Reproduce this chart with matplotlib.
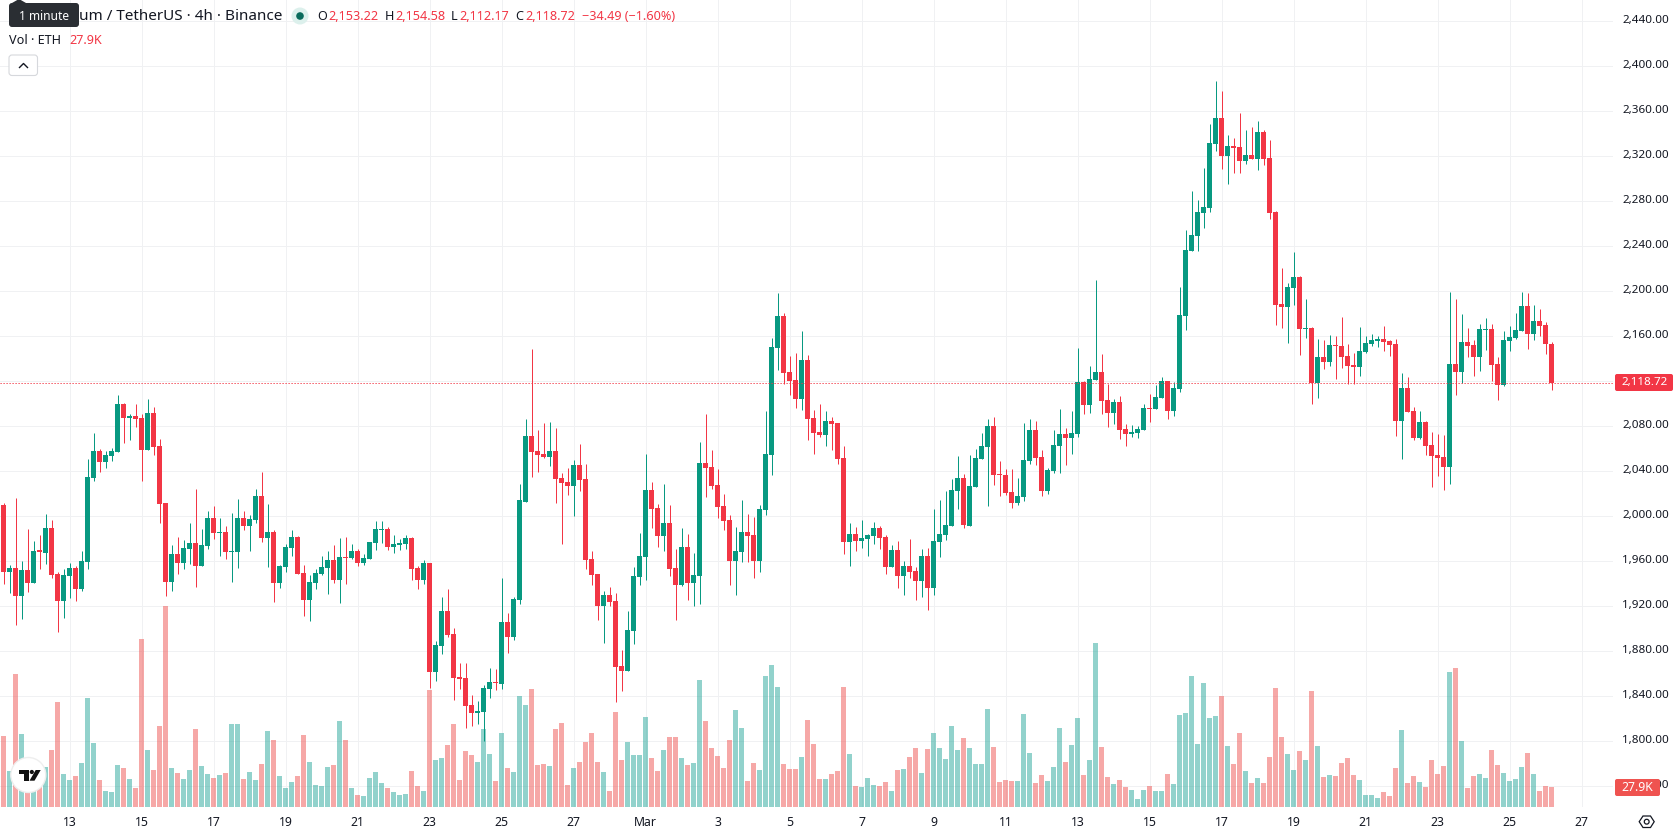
import matplotlib
matplotlib.use('Agg')
import matplotlib.pyplot as plt
from matplotlib.patches import Circle, FancyBboxPatch, Polygon, Rectangle
from matplotlib.transforms import ScaledTranslation
import numpy

# ETH/USDT 4h candles
opens = [2010.1,1950.5,1954.1,1929.2,1952.3,1940.7,1969.2,1967.4,1989.6,1948.7,
    1924.7,1947.0,1954.1,1935.4,1959.4,2034.1,2058.1,2048.3,2053.6,2057.2,
    2099.9,2087.4,2089.2,2087.4,2059.0,2091.9,2062.5,2011.9,1941.6,1966.5,
    1958.5,1971.0,1976.3,1955.9,1973.6,1998.5,1985.2,1986.1,1968.3,1968.3,
    1998.5,1991.4,1996.7,2018.1,1980.7,1986.1,1940.7,1955.0,1971.9,1981.6,
    1949.6,1925.6,1940.7,1948.7,1954.1,1961.2,1943.4,1963.9,1963.0,1969.2,
    1958.5,1962.1,1976.3,1987.9,1988.7,1972.7,1974.5,1975.4,1980.7,1954.1,
    1943.4,1958.5,1861.6,1884.7,1915.9,1895.4,1857.2,1856.3,1832.3,1825.2,
    1826.1,1846.5,1852.7,1851.0,1906.1,1892.7,1925.6,2012.7,2071.4,2058.1,
    2055.4,2052.7,2058.1,2034.1,2030.5,2027.0,2045.6,2033.2,1962.1,1948.7,
    1920.3,1930.1,1924.7,1867.0,1862.5,1898.1,1946.1,1963.9,2023.4,2007.4,
    1982.5,1994.1,1954.1,1939.0,1972.7,1940.7,1947.0,2047.4,2043.9,2027.9,
    2009.2,1996.7,1960.3,1968.3,1986.1,1983.4,1960.3,2005.6,2054.5,2149.6,
    2178.1,2128.3,2121.2,2104.3,2139.0,2087.4,2075.0,2072.3,2084.7,2083.0,
    2051.9,1977.2,1984.3,1978.1,1979.9,1982.5,1989.6,1981.6,1955.0,1970.1,
    1947.0,1955.9,1951.4,1942.5,1964.7,1936.3,1977.2,1983.4,1991.4,2022.5,
    2034.1,1991.4,2026.1,2051.0,2061.6,2080.3,2037.6,2036.7,2021.6,2011.9,
    2017.2,2049.2,2076.7,2052.7,2022.5,2040.3,2062.5,2073.2,2069.6,2073.2,
    2119.4,2099.0,2121.2,2128.3,2103.4,2091.9,2101.6,2077.6,2073.2,2074.1,
    2076.7,2096.3,2095.4,2105.2,2120.3,2093.6,2113.2,2178.1,2235.9,2249.2,
    2269.6,2274.1,2331.0,2354.1,2320.3,2329.2,2328.3,2315.9,2321.2,2317.6,
    2341.6,2318.5,2270.5,2188.7,2186.1,2203.0,2212.7,2166.5,2167.4,2118.5,
    2141.6,2137.2,2152.3,2151.4,2142.5,2134.5,2132.7,2146.1,2153.2,2155.9,
    2157.6,2155.9,2153.2,2084.7,2114.1,2093.6,2069.6,2083.9,2063.4,2054.5,
    2052.7,2043.9,2135.4,2128.3,2155.0,2152.3,2141.6,2165.6,2166.5,2135.4,
    2116.7,2155.9,2158.5,2164.7,2187.0,2162.1,2173.6,2170.1,2153.22]
highs = [2011.9,1956.7,2016.3,1960.3,1988.7,1978.1,1983.4,2002.1,1996.7,1950.5,
    1953.2,1958.5,1955.9,1969.2,2051.0,2074.1,2059.9,2058.1,2060.7,2107.9,
    2100.7,2091.0,2099.9,2091.0,2104.3,2097.2,2068.7,2011.9,1974.5,1981.6,
    1979.0,1994.1,2024.3,1988.7,2004.7,2009.2,1998.5,1991.4,2003.0,2015.4,
    2004.7,2001.2,2024.3,2039.4,2011.0,1987.9,1956.7,1975.4,1987.9,1982.5,
    1956.7,1947.9,1953.2,1964.7,1969.2,1974.5,1980.7,1981.6,1975.4,1971.0,
    1966.5,1977.2,1995.9,1995.9,1990.5,1983.4,1979.9,1983.4,1981.6,1955.9,
    1961.2,1958.5,1889.2,1928.3,1935.4,1900.7,1869.6,1869.6,1841.2,1835.8,
    1850.1,1865.2,1864.3,1945.2,1914.1,1928.3,2028.7,2086.5,2148.7,2076.7,
    2083.0,2083.9,2078.5,2038.5,2043.0,2050.1,2064.3,2046.5,1969.2,1948.7,
    1933.6,1937.2,1931.9,1881.2,1915.9,1955.0,1985.2,2055.4,2030.5,2011.0,
    2028.7,2010.1,1971.0,1989.6,1984.3,1967.4,2066.1,2091.0,2059.0,2042.1,
    2019.9,2001.2,1990.5,2014.5,2002.1,1999.4,2010.1,2093.6,2158.5,2198.5,
    2180.7,2142.5,2145.2,2164.7,2143.4,2094.5,2099.9,2093.6,2088.3,2083.0,
    2062.5,1994.1,1990.5,1996.7,1984.3,1995.0,1991.4,1983.4,1974.5,1978.1,
    1960.3,1979.9,1955.0,1971.0,1971.9,2006.5,2014.5,2022.5,2033.2,2053.6,
    2037.6,2054.5,2059.9,2074.1,2086.5,2088.3,2049.2,2042.1,2042.1,2034.1,
    2083.0,2086.5,2084.7,2059.0,2043.0,2076.7,2095.4,2078.5,2093.6,2149.6,
    2120.3,2133.6,2210.1,2144.3,2117.6,2104.3,2107.0,2082.1,2081.2,2080.3,
    2099.9,2108.7,2116.7,2123.9,2120.3,2119.4,2203.9,2254.5,2289.2,2281.2,
    2309.6,2348.7,2387.0,2378.1,2339.0,2336.3,2358.5,2343.4,2346.1,2351.4,
    2343.4,2334.5,2271.4,2220.7,2207.4,2235.0,2213.6,2193.2,2168.3,2157.6,
    2156.7,2161.2,2160.3,2177.2,2153.2,2145.2,2168.3,2160.3,2162.1,2160.3,
    2169.2,2156.7,2157.6,2127.4,2123.9,2097.2,2093.6,2084.7,2075.0,2073.2,
    2072.3,2199.4,2193.2,2179.9,2167.4,2156.7,2171.0,2176.3,2171.0,2141.6,
    2164.7,2169.2,2180.7,2199.4,2198.5,2187.9,2184.3,2172.7,2154.58]
lows = [1939.9,1931.9,1903.4,1908.7,1932.7,1940.7,1953.2,1957.6,1945.2,1897.2,
    1909.6,1927.4,1924.7,1933.6,1953.2,2031.4,2039.4,2043.0,2049.2,2057.2,
    2065.2,2067.9,2079.4,2031.4,2059.0,2054.5,1994.1,1929.2,1933.6,1948.7,
    1953.2,1957.6,1937.2,1955.9,1971.0,1979.9,1964.7,1962.1,1941.6,1954.1,
    1987.9,1969.2,1994.1,1977.2,1955.0,1923.9,1936.3,1950.5,1964.7,1948.7,
    1911.4,1907.0,1935.4,1947.9,1931.0,1940.7,1923.0,1939.9,1962.1,1955.9,
    1956.7,1962.1,1970.1,1976.3,1970.1,1967.4,1970.1,1971.0,1943.4,1935.4,
    1939.9,1847.4,1853.6,1877.6,1892.7,1836.7,1846.5,1812.1,1813.6,1815.4,
    1800.3,1838.5,1845.6,1846.5,1878.5,1890.1,1922.1,2012.7,2035.0,2039.4,
    2051.9,2044.7,2011.9,1975.4,2019.0,2000.3,2022.5,1953.2,1939.0,1907.9,
    1887.4,1920.3,1835.0,1844.7,1862.5,1886.5,1939.0,1943.4,1989.6,1972.7,
    1969.2,1947.0,1907.9,1938.1,1925.6,1920.3,1922.1,2017.2,2024.3,1998.5,
    1987.9,1939.0,1930.1,1959.4,1959.4,1945.2,1950.5,2001.2,2036.7,2130.1,
    2117.6,2107.9,2096.3,2094.5,2067.9,2055.4,2070.5,2062.5,2059.0,2046.5,
    1966.5,1955.9,1969.2,1971.9,1964.7,1975.4,1971.0,1948.7,1955.0,1936.3,
    1930.1,1945.2,1925.6,1928.3,1916.7,1930.1,1963.9,1979.0,1991.4,2006.5,
    1989.6,1991.4,2026.1,2051.0,2009.2,2027.9,2018.1,2019.0,2007.4,2010.1,
    2013.6,2046.5,2045.6,2018.1,2019.9,2038.5,2038.5,2045.6,2055.4,2070.5,
    2091.0,2091.9,2121.2,2091.0,2079.4,2082.1,2068.7,2062.5,2070.5,2069.6,
    2076.7,2083.9,2095.4,2105.2,2086.5,2089.2,2110.5,2165.6,2235.9,2235.9,
    2256.3,2270.5,2324.7,2308.7,2295.4,2305.2,2305.2,2313.2,2317.6,2307.9,
    2312.3,2264.3,2170.1,2167.4,2154.1,2187.9,2143.4,2158.5,2099.9,2105.2,
    2131.0,2133.6,2122.1,2131.9,2117.6,2117.6,2124.7,2145.2,2151.4,2150.5,
    2147.0,2142.5,2071.4,2051.0,2092.7,2067.9,2068.7,2054.5,2026.1,2035.9,
    2023.4,2028.7,2107.9,2118.5,2141.6,2124.7,2129.2,2147.9,2120.3,2103.4,
    2115.9,2147.0,2157.6,2164.7,2148.7,2156.7,2160.3,2144.3,2112.17]
closes = [1950.5,1954.1,1929.2,1952.3,1940.7,1969.2,1968.6,1989.6,1947.9,1924.7,
    1947.9,1954.1,1935.4,1960.3,2035.0,2058.1,2048.3,2054.5,2058.1,2099.9,
    2087.4,2089.2,2086.5,2059.0,2091.9,2061.6,2011.0,1941.6,1966.5,1958.5,
    1971.9,1976.3,1955.9,1974.5,1998.5,1985.2,1986.1,1968.3,1969.2,1998.5,
    1991.4,1997.6,2018.1,1980.7,1986.1,1940.7,1955.9,1972.7,1981.6,1948.7,
    1925.6,1941.6,1949.6,1955.0,1961.2,1943.4,1963.9,1963.0,1969.2,1958.5,
    1963.0,1977.2,1988.7,1988.7,1972.7,1975.4,1976.3,1980.7,1953.2,1943.4,
    1958.5,1861.6,1885.6,1915.9,1894.5,1856.3,1855.4,1831.4,1825.2,1827.0,
    1847.4,1852.7,1851.8,1906.1,1892.7,1926.5,2014.5,2071.4,2057.2,2054.5,
    2052.7,2058.1,2033.2,2029.6,2027.0,2045.6,2032.3,1961.2,1947.9,1920.3,
    1930.1,1923.9,1866.1,1862.5,1899.0,1947.0,1964.7,2023.4,2006.5,1982.5,
    1994.1,1953.2,1939.0,1972.7,1940.7,1947.9,2047.4,2043.0,2027.0,2008.3,
    1995.9,1960.3,1969.2,1986.1,1982.5,1960.3,2006.5,2055.4,2150.5,2178.1,
    2127.4,2120.3,2104.3,2139.0,2086.5,2074.1,2072.3,2084.7,2082.1,2051.0,
    1977.2,1984.3,1978.1,1980.7,1983.4,1989.6,1980.7,1955.0,1970.1,1947.0,
    1955.9,1950.5,1942.5,1964.7,1936.3,1978.1,1984.3,1992.3,2023.4,2034.1,
    1992.3,2027.0,2051.9,2062.5,2080.3,2036.7,2036.7,2020.7,2011.9,2018.1,
    2050.1,2076.7,2051.9,2022.5,2041.2,2063.4,2073.2,2069.6,2074.1,2119.4,
    2099.0,2122.1,2128.3,2102.5,2091.9,2101.6,2076.7,2073.2,2075.0,2077.6,
    2096.3,2095.4,2106.1,2120.3,2093.6,2114.1,2179.0,2236.7,2250.1,2270.5,
    2275.0,2331.9,2354.1,2320.3,2329.2,2327.4,2315.9,2321.2,2317.6,2341.6,
    2317.6,2269.6,2187.9,2186.1,2203.9,2212.7,2166.5,2167.4,2118.5,2141.6,
    2137.2,2152.3,2151.4,2141.6,2133.6,2132.7,2147.0,2154.1,2156.7,2157.6,
    2155.0,2152.3,2084.7,2114.1,2092.7,2069.6,2083.9,2062.5,2053.6,2051.9,
    2043.9,2135.4,2128.3,2155.0,2151.4,2141.6,2166.5,2166.5,2134.5,2116.7,
    2156.7,2159.4,2165.6,2187.0,2162.1,2173.6,2169.2,2153.2,2118.72]
# volume in thousands of ETH
volumes = [99.0,50.2,185.5,101.8,20.9,28.4,30.7,55.8,79.5,146.5,
    46.0,37.7,43.2,61.4,152.1,89.3,37.7,22.3,20.9,58.6,
    54.4,39.1,26.5,234.4,79.5,51.6,113.0,280.9,54.4,47.4,
    39.1,51.6,108.8,57.2,46.0,40.5,44.6,47.4,115.8,115.8,
    39.1,48.8,37.7,60.0,106.0,93.5,43.2,26.5,34.9,43.2,
    100.4,62.8,30.7,29.3,55.8,58.6,120.0,93.5,26.5,16.7,
    15.3,40.5,48.8,33.5,26.5,20.9,16.7,18.1,50.2,29.3,
    22.3,163.2,65.6,68.4,86.5,115.8,37.7,78.1,72.5,62.8,
    108.8,73.9,36.3,103.2,54.4,48.8,154.8,142.3,164.6,58.6,
    60.0,57.2,108.8,117.2,30.7,54.4,62.8,90.7,103.2,62.8,
    48.8,22.3,132.5,65.6,90.7,72.5,72.5,125.6,68.4,50.2,
    79.5,97.7,97.7,68.4,58.6,61.4,177.2,120.0,82.3,71.1,
    54.4,93.5,135.3,110.2,36.3,61.4,51.6,182.7,198.1,167.4,
    60.0,53.0,53.0,69.8,121.4,87.9,39.1,39.1,46.0,50.2,
    167.4,73.9,29.3,27.9,40.5,30.7,29.3,34.9,22.3,51.6,
    53.0,69.8,82.3,47.4,80.9,103.2,82.3,67.0,113.0,79.5,
    96.3,82.3,60.0,60.0,136.7,83.7,34.9,37.7,36.3,36.3,
    129.7,75.3,33.5,44.6,36.3,55.8,110.2,62.8,86.5,124.2,
    44.6,65.6,228.8,83.7,41.9,32.1,37.7,27.9,23.7,11.2,
    23.7,29.3,22.3,22.3,46.0,32.1,128.3,131.1,182.7,87.9,
    173.0,124.2,126.9,154.8,85.1,60.0,103.2,50.2,33.5,40.5,
    33.5,69.8,166.0,97.7,73.9,51.6,78.1,65.6,161.8,85.1,
    41.9,44.6,43.2,61.4,68.4,44.6,37.7,16.7,16.7,12.6,
    20.9,15.3,54.4,107.4,33.5,43.2,34.9,27.9,65.6,46.0,
    57.2,188.3,193.9,92.1,26.5,43.2,46.0,40.5,79.5,58.6,
    47.4,36.3,39.1,55.8,75.3,46.0,22.3,29.3,27.9]

date_labels = ['13','15','17','19','21','23','25','27','Mar','3','5','7','9','11','13','15','17','19','21','23','25','27']
price_ticks = numpy.arange(1760,2441,40)

up = '#089981'
down = '#f23645'
vol_up = '#26a69a'
vol_down = '#ef5350'
gridcol = '#f0f1f3'
textcol = '#131722'

plt.rcParams['font.family'] = ['Noto Sans','DejaVu Sans']

opens = numpy.array(opens)
highs = numpy.array(highs)
lows = numpy.array(lows)
closes = numpy.array(closes)
volumes = numpy.array(volumes)
idx = numpy.arange(len(opens))
rising = closes >= opens
colors = [up if r else down for r in rising]
volcolors = [vol_up if r else vol_down for r in rising]

fig = plt.figure(figsize=(16.78,8.35),dpi=100)
pane = [0,28/835,1613/1678,807/835]
xlim = (-3.5/6,(1613-3.5)/6)

# grid and axis labels sit on the bottom layer
ax_grid = fig.add_axes(pane,zorder=0)
ax_grid.set_xlim(xlim)
ax_grid.set_ylim(1741.6,2458.9)
date_pos = 11 + 12*numpy.arange(len(date_labels))
ax_grid.set_xticks(date_pos)
ax_grid.set_xticklabels(date_labels,fontsize=8.8,color=textcol)
ax_grid.get_xticklabels()[8].set_fontweight('bold')
ax_grid.set_yticks(price_ticks)
ax_grid.set_yticklabels(['{:,.2f}'.format(p) for p in price_ticks],fontsize=8.4,color=textcol)
ax_grid.yaxis.tick_right()
ax_grid.tick_params(axis='y',length=0,pad=6.5)
ax_grid.tick_params(axis='x',length=0,pad=6.5)
# price labels ride slightly above their grid line
nudge = ScaledTranslation(0,2/100,fig.dpi_scale_trans)
for t in ax_grid.get_yticklabels():
    t.set_transform(t.get_transform() + nudge)
ax_grid.grid(True,color=gridcol,linewidth=0.72)
ax_grid.set_axisbelow(True)
for s in ax_grid.spines.values():
    s.set_visible(False)

# volume histogram
ax_vol = fig.add_axes(pane,zorder=1)
ax_vol.patch.set_visible(False)
ax_vol.set_xlim(xlim)
ax_vol.set_ylim(0,1125.8)
ax_vol.bar(idx,volumes,width=5/6,color=volcolors,alpha=0.5,linewidth=0)
ax_vol.axis('off')

# candles
ax = fig.add_axes(pane,zorder=2)
ax.patch.set_visible(False)
ax.set_xlim(xlim)
ax.set_ylim(1741.6,2458.9)
ax.vlines(idx,lows,highs,colors=colors,linewidth=0.72)
bottoms = numpy.minimum(opens,closes)
heights = numpy.maximum(numpy.abs(closes-opens),1.0)
ax.bar(idx,heights,width=5/6,bottom=bottoms,color=colors,linewidth=0,antialiased=False)
ax.axhline(closes[-1],color=down,linewidth=0.72,linestyle=(0,(1.2,1.8)),snap=True)
ax.axis('off')

# chart chrome, in pixel coordinates
ui = fig.add_axes([0,0,1,1],zorder=5)
ui.patch.set_visible(False)
ui.set_xlim(0,1678)
ui.set_ylim(835,0)
ui.axis('off')

def label(x,y,s,color=textcol,size=9.1,ha='left',**kw):
    ui.text(x,y,s,color=color,fontsize=size,ha=ha,va='center',**kw)

def box(x0,y0,x1,y1,fc,ec='none',r=2,lw=0.8):
    ui.add_patch(FancyBboxPatch((x0+r,y0+r),x1-x0-2*r,y1-y0-2*r,boxstyle='round,pad=%f,rounding_size=%f' % (r,r),
        fc=fc,ec=ec,lw=lw,mutation_aspect=1))

# legend rows
label(79,16,'um / TetherUS · 4h · Binance',size=11.0)
ui.add_patch(Circle((300,16),8.5,fc='#dcf0ec',ec='none'))
ui.add_patch(Circle((300,16),3.8,fc='#0a6b5c',ec='none'))
ohlc = [('O',317.4,'2,153.22',328.6),('H',384.8,'2,154.58',395.5),('L',451,'2,112.17',459),('C',515.6,'2,118.72',525)]
for name,nx,val,vx in ohlc:
    label(nx,16,name)
    label(vx,16,val,color=down)
label(581.7,16,'−34.49 (−1.60%)',color=down)
label(9,40.5,'Vol · ETH')
label(69.6,40.5,'27.9K',color=down)

# tooltip over the symbol name
box(9,3,79,27,'#2a2e33',r=3)
ui.add_patch(Polygon([[12,3],[19,-1],[26,3]],fc='#2a2e33',ec='none'))
label(44,16,'1 minute',color='white',size=8.6,ha='center')

# collapse button
box(9,55,37.5,75.5,'white',ec='#d6d8dc',r=3)
ui.plot([19.5,23.5,27.5],[67.5,63.5,67.5],color=textcol,linewidth=1.0)

# last price and last volume tags
box(1615,374,1673,391,down,r=2)
label(1645,382.3,'2,118.72',color='white',size=8.4,ha='center')
box(1615,779,1660,796,vol_down,r=2)
label(1637.5,787.3,'27.9K',color='white',size=8.8,ha='center')

# settings hexagon
ui.add_patch(Polygon([[1639.2,821.7],[1643,816],[1650.5,816],[1654.2,821.7],[1650.5,827.5],[1643,827.5]],fc='white',ec=textcol,lw=0.9))
ui.add_patch(Circle((1646.7,821.7),2.4,fc='white',ec=textcol,lw=0.9))

# logo badge
ui.add_patch(Circle((28.3,775),17.5,fc='white',ec='#eeeeee',lw=1.0))
ui.add_patch(Rectangle((19,770),10.3,4.4,fc='#111111',ec='none'))
ui.add_patch(Rectangle((24,770),5.3,10.7,fc='#111111',ec='none'))
ui.add_patch(Circle((31.8,772),2.1,fc='#111111',ec='none'))
ui.add_patch(Polygon([[35.7,770],[40.7,770],[34.5,780.7],[29.5,780.7]],fc='#111111',ec='none'))

plt.savefig('out.png',dpi=100)
